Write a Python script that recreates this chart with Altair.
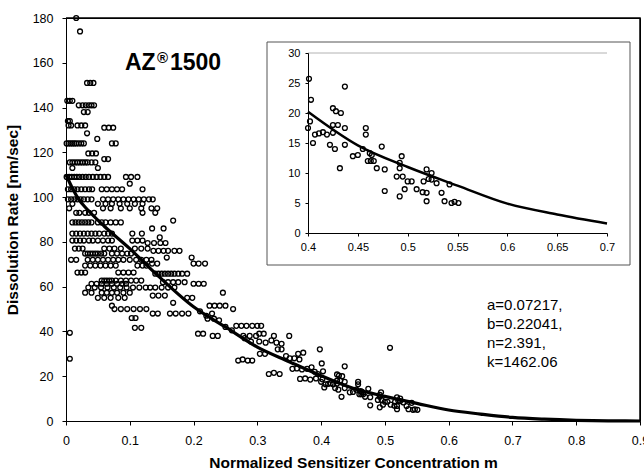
import altair as alt
import pandas as pd

# ---------------- data ----------------
# fitted curve (normalized sensitizer concentration m -> dissolution rate)
curve_m = [0, 0.01, 0.02, 0.035, 0.06, 0.1, 0.14, 0.2, 0.25, 0.3, 0.35, 0.4,
           0.45, 0.5, 0.55, 0.6, 0.65, 0.7, 0.75, 0.8, 0.85, 0.9]
curve_r = [110, 104, 99, 94, 87, 77, 66, 51, 42, 33, 26.5, 20.2,
           14.6, 11, 7.9, 4.9, 3.1, 1.6, 0.8, 0.3, 0.05, 0]

# measured points in the 0.40-0.55 range (shown in the inset and main plot)
inset_m = [0.401, 0.403, 0.402, 0.400, 0.405, 0.407, 0.411, 0.415, 0.419, 0.425,
           0.428, 0.433, 0.425, 0.430, 0.437, 0.425, 0.422, 0.427, 0.437, 0.437,
           0.432, 0.445, 0.450, 0.455, 0.458, 0.458, 0.462, 0.460, 0.463, 0.466,
           0.464, 0.469, 0.474, 0.477, 0.477, 0.489, 0.492, 0.492, 0.494, 0.492,
           0.495, 0.497, 0.500, 0.504, 0.509, 0.516, 0.519, 0.519, 0.519, 0.524,
           0.524, 0.529, 0.534, 0.537, 0.542, 0.544, 0.547, 0.551, 0.515, 0.521]
inset_r = [25.7, 22.2, 18.6, 17.5, 15.0, 16.4, 16.6, 16.8, 16.4, 20.8,
           20.3, 20.0, 18.0, 18.0, 17.5, 16.7, 14.7, 14.0, 14.7, 24.4,
           10.8, 12.8, 13.0, 14.0, 17.5, 16.4, 13.3, 12.0, 12.0, 12.0,
           13.0, 10.8, 14.4, 10.6, 7.0, 9.4, 10.8, 11.7, 12.8, 6.1,
           9.4, 7.3, 8.6, 8.6, 7.3, 8.6, 10.6, 6.7, 5.3, 10.0,
           8.9, 8.3, 6.7, 5.3, 8.1, 5.0, 5.2, 5.0, 6.8, 9.0]

# main-plot points grouped in rows of equal rate (rate, list of m values)
row_rates = [180, 174, 151, 143, 141, 138, 134, 132, 131, 128.5, 126, 124, 119.5,
             117, 115.5, 113, 109, 106, 103.5, 99, 97, 95, 93, 89.5, 88.7, 86,
             83.7, 82, 80.6, 79.5, 77, 76, 74.8, 73, 72, 70.3, 69.4, 66.3, 65.8,
             62.7, 62, 61.3, 59.6, 57.3, 56, 55, 52.8, 51.5, 50, 48, 46, 45.7,
             42.5, 41.6, 39, 38]
row_ms = [
    [0.016], [0.022], [0.033, 0.038, 0.043], [0.002, 0.006, 0.010],
    [0.020, 0.026, 0.031, 0.036, 0.040, 0.044], [0.028, 0.034], [0.003, 0.006],
    [0.004, 0.008, 0.018, 0.024, 0.030], [0.060, 0.067, 0.074], [0.033], [0.049],
    [0.001, 0.004, 0.007, 0.010, 0.013, 0.016, 0.020, 0.024, 0.028, 0.072, 0.078],
    [0.035, 0.041, 0.047], [0.060, 0.066],
    [0.006, 0.010, 0.014, 0.018, 0.022, 0.026, 0.030, 0.034, 0.040, 0.046],
    [0.010, 0.050],
    [0.001, 0.005, 0.009, 0.013, 0.017, 0.021, 0.026, 0.031, 0.036, 0.042, 0.048,
     0.054, 0.060, 0.066, 0.094, 0.102, 0.112],
    [0.100],
    [0.003, 0.008, 0.013, 0.018, 0.024, 0.030, 0.036, 0.041, 0.056, 0.064, 0.072,
     0.080, 0.088, 0.120],
    [0.003, 0.008, 0.013, 0.018, 0.023, 0.028, 0.034, 0.040, 0.058, 0.066, 0.074,
     0.082, 0.090, 0.098, 0.106, 0.114, 0.122, 0.130, 0.136],
    [0.010, 0.050, 0.062, 0.072, 0.084, 0.096, 0.108, 0.120],
    [0.005, 0.058, 0.070, 0.086, 0.100, 0.118, 0.134, 0.143],
    [0.016, 0.021, 0.030, 0.036, 0.044, 0.120, 0.140],
    [0.168],
    [0.010, 0.015, 0.020, 0.025, 0.030, 0.035, 0.040, 0.050, 0.056, 0.062, 0.070,
     0.078, 0.086],
    [0.135, 0.153],
    [0.010, 0.016, 0.022, 0.028, 0.034, 0.040, 0.046, 0.052, 0.060, 0.066, 0.072,
     0.104, 0.119],
    [0.147],
    [0.010, 0.016, 0.022, 0.028, 0.036, 0.042, 0.050, 0.058, 0.066, 0.072, 0.104,
     0.112, 0.120],
    [0.128, 0.138, 0.148, 0.156],
    [0.014, 0.020, 0.026, 0.060, 0.068, 0.076, 0.086, 0.108, 0.118, 0.128],
    [0.137, 0.145, 0.153, 0.160, 0.170, 0.178],
    [0.030, 0.034, 0.038, 0.042, 0.046, 0.050, 0.055, 0.060, 0.072, 0.080, 0.088,
     0.096, 0.102],
    [0.158, 0.197],
    [0.008, 0.016, 0.034, 0.042, 0.050, 0.058, 0.066, 0.074, 0.082, 0.090, 0.100,
     0.110, 0.118, 0.126, 0.134],
    [0.135, 0.143, 0.200, 0.208, 0.218],
    [0.030, 0.038, 0.046, 0.054, 0.062, 0.070, 0.078, 0.112, 0.120, 0.126],
    [0.018, 0.024, 0.030, 0.082, 0.090, 0.098, 0.106],
    [0.140, 0.145, 0.150, 0.155, 0.160, 0.165, 0.170, 0.176, 0.182, 0.190],
    [0.056, 0.060, 0.064, 0.068, 0.072, 0.078, 0.086, 0.094, 0.102, 0.110, 0.118],
    [0.152, 0.160, 0.168, 0.176, 0.186],
    [0.040, 0.048, 0.056, 0.064, 0.072, 0.080, 0.088, 0.094, 0.200, 0.208, 0.216],
    [0.035, 0.045, 0.055, 0.065, 0.075, 0.085, 0.095, 0.105, 0.115, 0.125, 0.132,
     0.140, 0.150, 0.160, 0.170],
    [0.030, 0.040, 0.056, 0.064, 0.072, 0.080, 0.090, 0.100, 0.246],
    [0.136, 0.145, 0.155],
    [0.050, 0.060, 0.070, 0.082, 0.092, 0.190, 0.198],
    [0.168],
    [0.072, 0.225, 0.233, 0.241, 0.250],
    [0.076, 0.086, 0.096, 0.106, 0.116, 0.126, 0.262],
    [0.136, 0.144, 0.163, 0.172, 0.182, 0.192, 0.229],
    [0.103, 0.109],
    [0.222, 0.232],
    [0.267, 0.275, 0.283, 0.292, 0.300, 0.306],
    [0.108, 0.118],
    [0.207, 0.215, 0.303, 0.310],
    [0.230, 0.238, 0.278, 0.288, 0.298, 0.326, 0.350],
]

# other scattered main-plot points
scatter_m = [0.006, 0.006, 0.21, 0.22, 0.24, 0.25, 0.26, 0.28, 0.29, 0.303, 0.313,
             0.322, 0.330, 0.338, 0.332, 0.338, 0.398, 0.508, 0.304, 0.312, 0.364,
             0.372, 0.351, 0.358, 0.366, 0.318, 0.326, 0.335, 0.270, 0.277, 0.285,
             0.292, 0.355, 0.362, 0.370, 0.378, 0.367, 0.375, 0.383, 0.392, 0.345,
             0.385, 0.390, 0.395]
scatter_r = [39.4, 27.8, 49, 47, 45, 42, 40.5, 37, 35.5, 35.5, 35,
             36, 35, 34.5, 32, 32, 32, 32.7, 30, 30, 30,
             30.5, 28, 28, 27.5, 21, 21.5, 21, 27, 27.5, 27,
             27, 23.3, 23.5, 23, 23.3, 18.8, 19, 18.5, 19, 29,
             24, 22, 21]

x_ticks = [0, 0.1, 0.2, 0.3, 0.4, 0.5, 0.6, 0.7, 0.8, 0.9]
y_ticks = [0, 20, 40, 60, 80, 100, 120, 140, 160, 180]
inset_x_ticks = [0.4, 0.45, 0.5, 0.55, 0.6, 0.65, 0.7]
inset_y_ticks = [0, 5, 10, 15, 20, 25, 30]
params_lines = ["a=0.07217,", "b=0.22041,", "n=2.391,", "k=1462.06"]

# ---------------- tables ----------------
pm, pr = [], []
for rate, ms in zip(row_rates, row_ms):
    for m in ms:
        pm.append(m)
        pr.append(rate)
pm += scatter_m + inset_m
pr += scatter_r + inset_r
df_main = pd.DataFrame({"m": pm, "r": pr})
df_curve = pd.DataFrame({"m": curve_m, "r": curve_r})
df_inset = pd.DataFrame({"m": inset_m, "r": inset_r})
df_icurve = df_curve[(df_curve.m >= 0.4) & (df_curve.m <= 0.7)]
# plot-area frame (top edge then right edge), built from the axis limits
df_frame = pd.DataFrame({"m": [x_ticks[0], x_ticks[-1], x_ticks[-1]],
                         "r": [y_ticks[-1], y_ticks[-1], y_ticks[0]],
                         "o": [0, 1, 2]})
one = pd.DataFrame({"k": [0]})

FONT = "Liberation Sans"
W, H = 574, 403

ax_x = alt.Axis(title="Normalized Sensitizer Concentration m", values=x_ticks, format="~g",
                tickSize=4, labelPadding=9, labelFontSize=12.5, titleFontSize=15.5,
                titleFontWeight="bold", titlePadding=9, grid=False, domainColor="black",
                tickColor="black", labelColor="black", titleColor="black",
                labelFont=FONT, titleFont=FONT, labelFlush=False)
ax_y = alt.Axis(title="Dissolution Rate [nm/sec]", values=y_ticks, format="d",
                tickSize=4, labelPadding=9, labelFontSize=12.5, titleFontSize=15.5,
                titleFontWeight="bold", titlePadding=12, grid=False, domainColor="black",
                tickColor="black", labelColor="black", titleColor="black",
                labelFont=FONT, titleFont=FONT, labelFlush=False)
X = alt.X("m:Q", scale=alt.Scale(domain=[0, 0.9], nice=False, zero=False), axis=ax_x)
Y = alt.Y("r:Q", scale=alt.Scale(domain=[0, 180], nice=False, zero=False), axis=ax_y)

main_pts = alt.Chart(df_main).mark_point(shape="circle", filled=False, size=24, color="black",
                                          strokeWidth=1.3, opacity=1).encode(x=X, y=Y)
main_line = alt.Chart(df_curve).mark_line(color="black", strokeWidth=3.2,
                                          interpolate="monotone").encode(x=X, y=Y)
frame = alt.Chart(df_frame).mark_line(color="black", strokeWidth=1.5).encode(
    x=X, y=Y, order="o:Q")

t_az = alt.Chart(one).mark_text(text="AZ", font=FONT, fontSize=23, fontWeight="bold",
                                align="left", baseline="alphabetic", color="black"
                                ).encode(x=alt.value(59), y=alt.value(52))
t_reg = alt.Chart(one).mark_text(text="®", font=FONT, fontSize=15, fontWeight="bold",
                                 align="left", baseline="alphabetic", color="black"
                                 ).encode(x=alt.value(91), y=alt.value(45))
t_num = alt.Chart(one).mark_text(text="1500", font=FONT, fontSize=23, fontWeight="bold",
                                 align="left", baseline="alphabetic", color="black"
                                 ).encode(x=alt.value(104), y=alt.value(52))
t_par = alt.Chart(one).mark_text(text=params_lines, font=FONT, fontSize=15, lineHeight=19,
                                 align="left", baseline="top", color="black"
                                 ).encode(x=alt.value(421), y=alt.value(280))

main = alt.layer(frame, main_pts, main_line, t_az, t_reg, t_num, t_par)

# ---------------- inset ----------------
iax_x = alt.Axis(orient="bottom", offset=-188, values=inset_x_ticks, format="~g", title=None,
                 tickSize=3, labelPadding=5, labelFontSize=11, grid=False, zindex=2,
                 domainColor="black", tickColor="black", labelColor="black",
                 labelFont=FONT, labelFlush=False)
iax_y = alt.Axis(orient="left", offset=-242, values=inset_y_ticks, format="d", title=None,
                 tickSize=3, labelPadding=5, labelFontSize=11, grid=False, zindex=2,
                 domainColor="black", tickColor="black", labelColor="black",
                 labelFont=FONT, labelFlush=False)
IX = alt.X("m:Q", scale=alt.Scale(domain=[0.4, 0.7], range=[242, 541], nice=False, zero=False),
           axis=iax_x)
IY = alt.Y("r:Q", scale=alt.Scale(domain=[0, 30], range=[215, 35], nice=False, zero=False),
           axis=iax_y)

inset_box = alt.Chart(one).mark_rect(fill="white", stroke="#555555", strokeWidth=1).encode(
    x=alt.value(201), x2=alt.value(564), y=alt.value(24), y2=alt.value(247))
inset_top = alt.Chart(one).mark_rect(fill="white", fillOpacity=0, stroke="#cccccc",
                                     strokeWidth=1).encode(
    x=alt.value(242), x2=alt.value(541), y=alt.value(35), y2=alt.value(35))
inset_pts = alt.Chart(df_inset).mark_point(shape="circle", filled=False, size=24, color="black",
                                           strokeWidth=1.3, opacity=1).encode(x=IX, y=IY)
inset_line = alt.Chart(df_icurve).mark_line(color="black", strokeWidth=2.5,
                                            interpolate="monotone").encode(x=IX, y=IY)
inset = alt.layer(inset_box, inset_top, inset_pts, inset_line)

chart = alt.layer(main, inset).resolve_scale(x="independent", y="independent").properties(
    width=W, height=H,
    autosize=alt.AutoSizeParams(type="none"),
    padding={"left": 66, "top": 18, "right": 4, "bottom": 49},
    background="white",
).configure(font=FONT).configure_view(stroke="black", strokeWidth=1)

chart.save("out.html", embed_options={"renderer": "svg", "actions": False})
